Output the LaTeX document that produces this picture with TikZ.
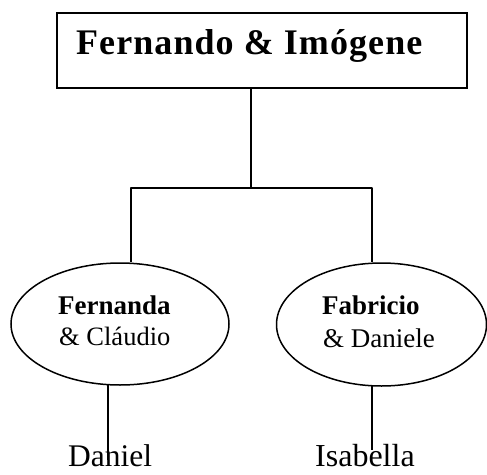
\documentclass[tikz,border=0pt]{standalone}
\usepackage{fontspec}
\setmainfont{Liberation Serif}
\usetikzlibrary{shapes.geometric}
\tikzset{
  ln/.style={line width=1.5pt,black},
  couple/.style={draw,ln,ellipse,inner sep=0pt},
  txt/.style={inner sep=0pt,anchor=base west,black}
}
\begin{document}
\begin{tikzpicture}[x=1pt,y=-1pt]
\useasboundingbox (0,0) rectangle (487,474);
\node[draw,ln,rectangle,inner sep=0pt,minimum width=410pt,minimum height=75pt] (top) at (262,50.5) {};
\node[txt] (toplabel) at (76,54) {\addfontfeatures{LetterSpace=3}\fontsize{36}{40}\selectfont\bfseries Fernando \& Imógene};
\node[couple,minimum width=218pt,minimum height=122pt] (left) at (120,324) {};
\node[couple,minimum width=210pt,minimum height=123pt] (right) at (381.5,324.5) {};
\node[txt] (l1) at (58,314) {\fontsize{27}{30}\selectfont\bfseries Fernanda};
\node[txt] (l2) at (59,345) {\fontsize{26.5}{30}\selectfont \& Cláudio};
\node[txt] (r1) at (322,314) {\fontsize{27}{30}\selectfont\bfseries Fabricio};
\node[txt] (r2) at (323,347) {\fontsize{27}{30}\selectfont \& Daniele};
\node[txt] (dan) at (68,466.5) {\fontsize{31.5}{34}\selectfont Daniel};
\node[txt] (isa) at (315,466.5) {\fontsize{32}{34}\selectfont Isabella};
\coordinate (j) at (251,188);
\coordinate (jl) at (131,188);
\coordinate (jr) at (372,188);
\coordinate (dl) at (108,385);
\coordinate (dr) at (372,386);
\coordinate (el) at (108,460);
\coordinate (er) at (372,450);
\draw[ln] (top.south -| j) -- (j);
\draw[ln,line join=round] (left.north -| jl) -- (jl) -- (jr) -- (right.north -| jr);
\draw[ln] (dl) -- (el);
\draw[ln] (dr) -- (er);
\end{tikzpicture}
\end{document}
